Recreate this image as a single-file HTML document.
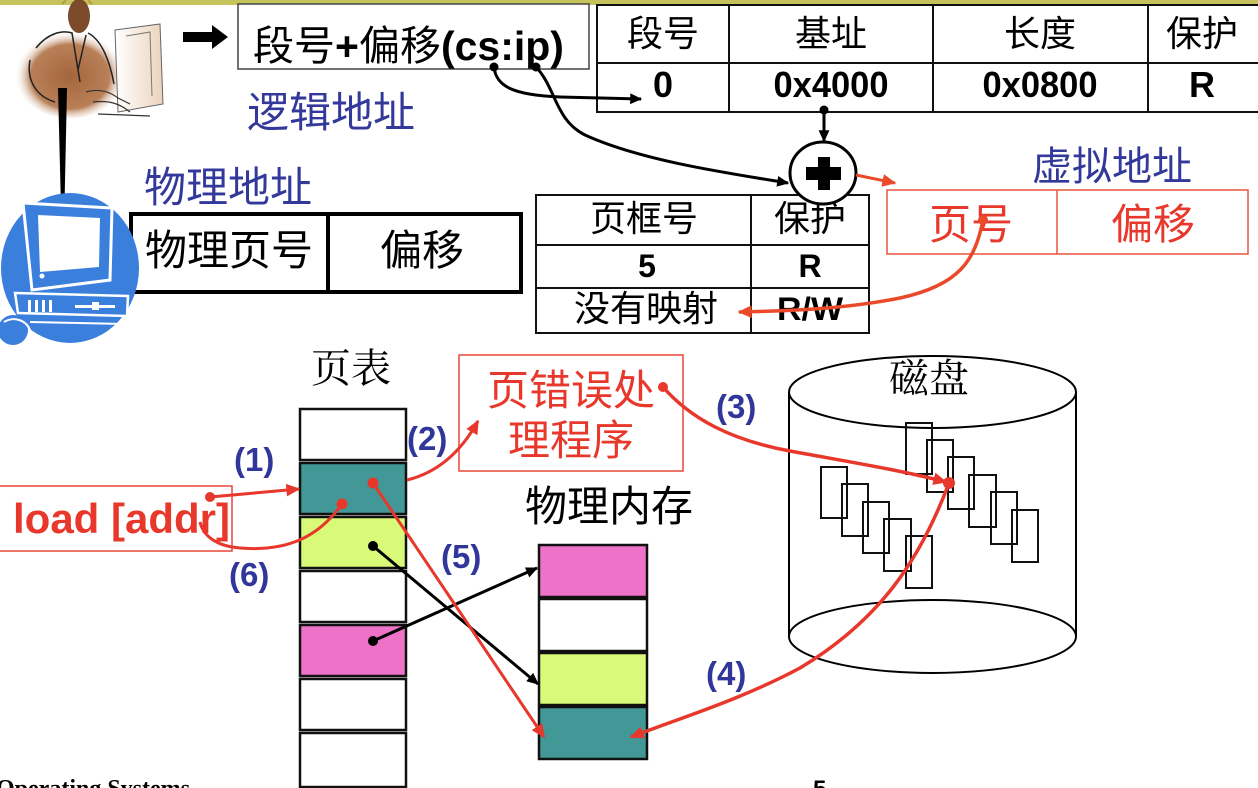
<!DOCTYPE html>
<html><head><meta charset="utf-8">
<style>
html,body{margin:0;padding:0;background:#fff;width:1258px;height:788px;overflow:hidden}
svg{display:block}
.cj{font-family:"Liberation Sans","Noto Sans CJK SC",sans-serif}
.sr{font-family:"Liberation Serif","Noto Serif CJK SC",serif}
.b{font-family:"Liberation Sans",sans-serif;font-weight:bold}
.lbl{font-family:"Liberation Sans",sans-serif;font-weight:bold;fill:#31379a;font-size:33px}
</style></head><body>
<svg width="1258" height="788" viewBox="0 0 1258 788" xmlns="http://www.w3.org/2000/svg">
<defs>
<marker id="ar" viewBox="0 0 10 10" refX="9" refY="5" markerWidth="16" markerHeight="14" markerUnits="userSpaceOnUse" orient="auto"><path d="M0,0.5 L10,5 L0,9.5 z" fill="#e8372b"/></marker>
<marker id="ao" viewBox="0 0 10 10" refX="9" refY="5" markerWidth="16" markerHeight="14" markerUnits="userSpaceOnUse" orient="auto"><path d="M0,0.5 L10,5 L0,9.5 z" fill="#eb4a2a"/></marker>
<marker id="ab" viewBox="0 0 10 10" refX="9" refY="5" markerWidth="15" markerHeight="12" markerUnits="userSpaceOnUse" orient="auto"><path d="M0,0.5 L10,5 L0,9.5 z" fill="#000"/></marker>
<radialGradient id="br" cx="0.5" cy="0.55" r="0.5"><stop offset="0" stop-color="#a4663c"/><stop offset="0.7" stop-color="#b98058"/><stop offset="1" stop-color="#fff" stop-opacity="0"/></radialGradient>
<linearGradient id="bg2" x1="0" y1="0" x2="1" y2="0"><stop offset="0" stop-color="#fff"/><stop offset="1" stop-color="#ecd3bd"/></linearGradient>
</defs>

<!-- top olive bar -->
<rect x="0" y="0" width="1258" height="5" fill="#c6c35c"/>

<!-- person clipart -->
<ellipse cx="70" cy="72" rx="56" ry="46" fill="url(#br)"/>
<path d="M115,30 L160,24 L163,104 L118,112 Z" fill="url(#bg2)" stroke="#666" stroke-width="1"/>
<path d="M126,36 L150,32 L152,96" fill="none" stroke="#777" stroke-width="1"/>
<ellipse cx="79" cy="16" rx="11" ry="17" fill="#7c4b2c"/>
<path d="M62,4 L66,0 M92,4 L88,0" stroke="#b99a40" stroke-width="2"/>
<path d="M36,48 C48,33 62,30 72,33 L80,82 M88,33 C102,40 110,62 114,84 M30,60 C26,82 38,97 55,102 M72,33 L78,70 L86,35" fill="none" stroke="#222" stroke-width="1.5"/>
<path d="M86,92 C100,88 110,92 118,98 L130,104 M93,102 C110,100 120,104 130,112 M98,114 L150,116" fill="none" stroke="#333" stroke-width="1.2"/>

<!-- black right arrow -->
<rect x="183" y="32" width="31" height="10" fill="#000"/>
<path d="M212,25 L228,37 L212,49 Z" fill="#000"/>

<!-- cs:ip box -->
<rect x="238" y="4" width="351" height="65" fill="#fff" stroke="#444" stroke-width="1.5"/>
<text x="253" y="60" font-size="41" class="cj" fill="#000">段号<tspan class="b">+</tspan>偏移<tspan class="b">(cs:ip)</tspan></text>

<!-- vertical wedge from person to computer -->
<polygon points="58,88 67,88 64,228 61.5,228" fill="#000"/>

<!-- logical address label -->
<text x="247" y="127" font-size="42" class="cj" fill="#33399a">逻辑地址</text>

<!-- top segment table -->
<g stroke="#111" stroke-width="2" fill="none">
<rect x="597" y="5" width="662" height="107" fill="#fff"/>
<line x1="597" y1="63" x2="1258" y2="63"/>
<line x1="729" y1="5" x2="729" y2="112"/>
<line x1="933" y1="5" x2="933" y2="112"/>
<line x1="1148" y1="5" x2="1148" y2="112"/>
</g>
<g class="cj" font-size="36" text-anchor="middle" fill="#000">
<text x="663" y="46">段号</text><text x="831" y="46">基址</text><text x="1040" y="46">长度</text><text x="1202" y="46">保护</text>
</g>
<g class="b" font-size="36" text-anchor="middle" fill="#000">
<text x="663" y="97">0</text>
<text x="831" y="97" textLength="115" lengthAdjust="spacingAndGlyphs">0x4000</text>
<text x="1040" y="97" textLength="115" lengthAdjust="spacingAndGlyphs">0x0800</text>
<text x="1202" y="97">R</text>
</g>

<!-- cs/ip curves -->
<circle cx="494" cy="67" r="4.5" fill="#000"/>
<circle cx="536" cy="67" r="4.5" fill="#000"/>
<path d="M494,67 C496,86 512,95 560,97 L641,99" fill="none" stroke="#000" stroke-width="3" marker-end="url(#ab)"/>
<path d="M536,67 C556,88 555,120 585,135 C640,160 720,172 788,183" fill="none" stroke="#000" stroke-width="3" marker-end="url(#ab)"/>

<!-- base down arrow -->
<circle cx="824" cy="110" r="4.5" fill="#000"/>
<line x1="824" y1="110" x2="824" y2="141" stroke="#000" stroke-width="3" marker-end="url(#ab)"/>

<!-- physical address label & table -->
<text x="144" y="202" font-size="42" class="cj" fill="#33399a">物理地址</text>
<rect x="131" y="214" width="390" height="78" fill="#fff" stroke="#000" stroke-width="4"/>
<line x1="328" y1="214" x2="328" y2="292" stroke="#000" stroke-width="4"/>
<text x="229" y="265" font-size="42" class="cj" text-anchor="middle" fill="#000">物理页号</text>
<text x="422" y="265" font-size="42" class="cj" text-anchor="middle" fill="#000">偏移</text>

<!-- computer icon -->
<ellipse cx="70" cy="268" rx="69" ry="75" fill="#3b7fdc"/>
<circle cx="13" cy="330" r="15" fill="#3b7fdc"/>
<path d="M4,322 C14,316 26,320 30,330" fill="none" stroke="#fff" stroke-width="2"/>
<polygon points="23,203 112,208 110,280 32,290" fill="#3b7fdc" stroke="#fff" stroke-width="3"/>
<polygon points="38,215 100,218 99,267 40,272" fill="#fff"/>
<circle cx="42" cy="276" r="2.5" fill="#fff"/>
<polygon points="15,293 128,296 127,316 18,313" fill="#3b7fdc" stroke="#fff" stroke-width="2.5"/>
<g fill="#fff"><rect x="28" y="300" width="3" height="12"/><rect x="35" y="300" width="3" height="12"/><rect x="42" y="300" width="3" height="12"/><rect x="49" y="300" width="3" height="12"/></g>
<rect x="75" y="305" width="40" height="3" fill="#fff"/><rect x="92" y="302" width="7" height="8" fill="#fff"/>
<path d="M30,322 L125,324" stroke="#fff" stroke-width="2"/>

<!-- middle page-table-entry table -->
<g stroke="#111" stroke-width="2" fill="none">
<rect x="536" y="195" width="333" height="138" fill="#fff"/>
<line x1="536" y1="245" x2="869" y2="245"/>
<line x1="536" y1="288" x2="869" y2="288"/>
<line x1="751" y1="195" x2="751" y2="333"/>
</g>
<text x="644" y="231" font-size="36" class="cj" text-anchor="middle" fill="#000">页框号</text>
<text x="810" y="231" font-size="36" class="cj" text-anchor="middle" fill="#000">保护</text>
<text x="647" y="277" font-size="32" class="b" text-anchor="middle" fill="#000">5</text>
<text x="810" y="277" font-size="32" class="b" text-anchor="middle" fill="#000">R</text>
<text x="646" y="321" font-size="36" class="cj" text-anchor="middle" fill="#000">没有映射</text>
<text x="810" y="320" font-size="32" class="b" text-anchor="middle" fill="#000" textLength="66" lengthAdjust="spacingAndGlyphs">R/W</text>

<!-- plus circle -->
<ellipse cx="823" cy="173" rx="33" ry="31" fill="#fff" stroke="#000" stroke-width="3"/>
<rect x="806" y="167" width="35" height="13" fill="#000"/>
<rect x="818" y="157" width="12" height="33" fill="#000"/>

<!-- circle -> virtual address arrow -->
<line x1="856" y1="175" x2="895" y2="183" stroke="#eb4a2a" stroke-width="3" marker-end="url(#ao)"/>

<!-- virtual address -->
<text x="1112" y="180" font-size="40" class="cj" text-anchor="middle" fill="#33399a">虚拟地址</text>
<rect x="887" y="190" width="361" height="64" fill="none" stroke="#e8553a" stroke-width="1.5"/>
<line x1="1057" y1="190" x2="1057" y2="254" stroke="#e8553a" stroke-width="1.5"/>
<text x="971" y="239" font-size="42" class="cj" text-anchor="middle" fill="#e8372b">页号</text>
<text x="1153" y="239" font-size="42" class="cj" text-anchor="middle" fill="#e8372b">偏移</text>
<circle cx="983" cy="220" r="5" fill="#eb4a2a"/>
<path d="M983,220 C975,260 960,285 900,298 C840,310 780,311 739,312" fill="none" stroke="#eb4a2a" stroke-width="3.5" marker-end="url(#ao)"/>

<!-- page table label -->
<text x="351" y="382" font-size="40" class="sr" text-anchor="middle" fill="#000">页表</text>

<!-- page table column -->
<g stroke="#111" stroke-width="2.5">
<rect x="300" y="409" width="106" height="51" fill="#fff"/>
<rect x="300" y="463" width="106" height="51" fill="#419896"/>
<rect x="300" y="517" width="106" height="51" fill="#d8fa78"/>
<rect x="300" y="571" width="106" height="51" fill="#fff"/>
<rect x="300" y="625" width="106" height="51" fill="#ee72c8"/>
<rect x="300" y="679" width="106" height="51" fill="#fff"/>
<rect x="300" y="733" width="106" height="54" fill="#fff"/>
</g>

<!-- page fault handler box -->
<rect x="459" y="355" width="224" height="116" fill="#fff" stroke="#e8473a" stroke-width="1.5"/>
<text x="571" y="405" font-size="42" class="cj" text-anchor="middle" fill="#e8372b">页错误处</text>
<text x="571" y="455" font-size="42" class="cj" text-anchor="middle" fill="#e8372b">理程序</text>

<!-- physical memory -->
<text x="609" y="521" font-size="42" class="cj" text-anchor="middle" fill="#000">物理内存</text>
<g stroke="#111" stroke-width="2.5">
<rect x="539" y="545" width="108" height="52" fill="#ee72c8"/>
<rect x="539" y="599" width="108" height="52" fill="#fff"/>
<rect x="539" y="653" width="108" height="52" fill="#d8fa78"/>
<rect x="539" y="707" width="108" height="52" fill="#419896"/>
</g>

<!-- disk cylinder -->
<g fill="none" stroke="#000" stroke-width="2">
<line x1="789" y1="392" x2="789" y2="636"/>
<line x1="1076" y1="392" x2="1076" y2="636"/>
<ellipse cx="932.5" cy="392" rx="143.5" ry="36"/>
<ellipse cx="932.5" cy="636.5" rx="143.5" ry="36.5"/>
</g>
<text x="929" y="392" font-size="40" class="sr" text-anchor="middle" fill="#000">磁盘</text>
<g fill="none" stroke="#111" stroke-width="2">
<rect x="821" y="467" width="26" height="51"/>
<rect x="842" y="484" width="26" height="52"/>
<rect x="863" y="502" width="26" height="51"/>
<rect x="884" y="519" width="27" height="52"/>
<rect x="906" y="536" width="26" height="52"/>
<rect x="906" y="423" width="26" height="51"/>
<rect x="927" y="440" width="26" height="52"/>
<rect x="948" y="457" width="26" height="52"/>
<rect x="969" y="475" width="27" height="52"/>
<rect x="991" y="492" width="26" height="52"/>
<rect x="1012" y="510" width="26" height="52"/>
</g>

<!-- load [addr] -->
<rect x="-2" y="486" width="234" height="65" fill="#fff" stroke="#e8473a" stroke-width="1.5"/>
<text x="13" y="533" font-size="42" class="b" fill="#e8372b" textLength="217" lengthAdjust="spacingAndGlyphs">load [addr]</text>

<!-- black mapping arrows -->
<circle cx="373" cy="546" r="5" fill="#000"/>
<line x1="373" y1="546" x2="538" y2="684" stroke="#000" stroke-width="3" marker-end="url(#ab)"/>
<circle cx="373" cy="641" r="5" fill="#000"/>
<line x1="373" y1="641" x2="537" y2="568" stroke="#000" stroke-width="3" marker-end="url(#ab)"/>

<!-- red flow arrows -->
<circle cx="210" cy="497" r="5" fill="#e8372b"/>
<line x1="210" y1="497" x2="299" y2="489" stroke="#e8372b" stroke-width="3" marker-end="url(#ar)"/>
<circle cx="342" cy="504" r="5.5" fill="#e8372b"/>
<path d="M342,504 C320,535 290,552 240,548 C215,546 203,535 200,522" fill="none" stroke="#e8372b" stroke-width="3"/>
<path d="M407,480 C440,472 462,450 478,421" fill="none" stroke="#e8372b" stroke-width="3" marker-end="url(#ar)"/>
<circle cx="373" cy="483" r="5.5" fill="#e8372b"/>
<line x1="373" y1="483" x2="544" y2="737" stroke="#e8372b" stroke-width="3" marker-end="url(#ar)"/>
<circle cx="663" cy="387" r="5" fill="#e8372b"/>
<path d="M663,387 C690,418 730,440 790,451 C850,462 900,470 946,482" fill="none" stroke="#e8372b" stroke-width="3.5" marker-end="url(#ar)"/>
<circle cx="949" cy="483" r="6" fill="#e8372b"/>
<path d="M949,483 C920,560 880,620 800,668 C740,700 680,718 631,737" fill="none" stroke="#e8372b" stroke-width="3.5" marker-end="url(#ar)"/>

<!-- step labels -->
<text x="234" y="471" class="lbl">(1)</text>
<text x="407" y="450" class="lbl">(2)</text>
<text x="716" y="418" class="lbl">(3)</text>
<text x="706" y="685" class="lbl">(4)</text>
<text x="441" y="568" class="lbl">(5)</text>
<text x="229" y="586" class="lbl">(6)</text>

<!-- footer -->
<text x="-4" y="796" font-size="24" font-weight="bold" class="sr" fill="#000">Operating Systems</text>
<text x="813" y="797" font-size="24" class="b" fill="#000">5</text>
</svg>
</body></html>
